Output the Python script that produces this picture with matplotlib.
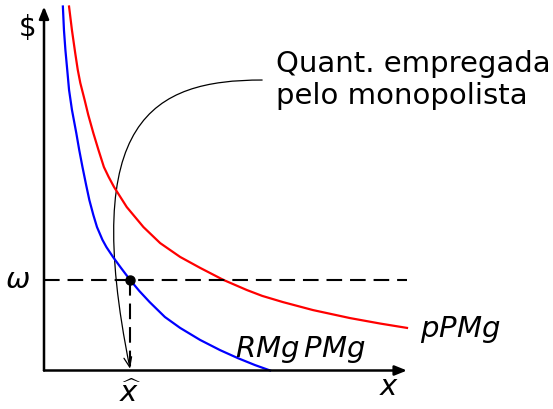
import matplotlib
matplotlib.use("Agg")
import matplotlib.pyplot as plt
from matplotlib.path import Path
from matplotlib.patches import FancyArrowPatch

# curva RMg PMg (azul)
rmg_x = [0.52, 0.55, 0.59, 0.64, 0.69, 0.77, 0.89, 0.97, 1.06, 1.16, 1.25, 1.36, 1.46, 1.61,
         1.72, 1.90, 2.12, 2.37, 2.63, 2.91, 3.33, 3.75, 4.30, 4.85, 5.34, 5.81, 6.23]
rmg_y = [10.0, 9.35, 8.80, 8.26, 7.71, 7.16, 6.52, 6.06, 5.59, 5.10, 4.68, 4.27, 3.94, 3.59,
         3.39, 3.12, 2.82, 2.49, 2.18, 1.88, 1.47, 1.17, 0.84, 0.56, 0.34, 0.15, 0.0]

# curva pPMg (vermelha)
ppmg_x = [0.69, 0.77, 0.86, 0.93, 1.00, 1.12, 1.22, 1.36, 1.50, 1.65, 1.78, 1.93, 2.28, 2.74,
          3.20, 3.75, 4.30, 4.94, 5.59, 6.01, 6.58, 7.41, 8.43, 9.26, 10.0]
ppmg_y = [10.0, 9.35, 8.72, 8.26, 7.90, 7.43, 7.02, 6.52, 6.06, 5.59, 5.32, 5.04, 4.49, 3.94,
          3.50, 3.12, 2.82, 2.49, 2.21, 2.05, 1.88, 1.66, 1.44, 1.29, 1.17]

# salário e quantidade do monopolista
omega = 2.49
x_hat = 2.37

fs = 21
fig = plt.figure(figsize=(5.53, 4.09), dpi=100)
ax = fig.add_axes([44 / 553, 38.5 / 409, 363 / 553, 364 / 409])
ax.set_xlim(0, 10)
ax.set_ylim(0, 10)
ax.axis('off')

# eixos com setas
seta = dict(arrowstyle='-|>,head_length=0.72,head_width=0.29', color='black',
            lw=1.8, shrinkA=0, shrinkB=0, mutation_scale=10)
ax.annotate('', xy=(10, 0), xytext=(0, 0), arrowprops=seta, annotation_clip=False)
ax.annotate('', xy=(0, 10), xytext=(0, 0), arrowprops=seta, annotation_clip=False)

# curvas
ax.plot(ppmg_x, ppmg_y, color='red', lw=1.6, clip_on=False, solid_joinstyle='round')
ax.plot(rmg_x, rmg_y, color='blue', lw=1.6, clip_on=False, solid_joinstyle='round')

# linhas tracejadas
ax.plot([0, 10], [omega, omega], color='black', lw=1.5, dashes=(7.5, 3.8), clip_on=False)
ax.plot([x_hat, x_hat], [omega, 0], color='black', lw=1.5, dashes=(7.5, 3.8), clip_on=False)
ax.plot(x_hat, omega, 'o', color='black', ms=6.5, zorder=5)

# seta curva da anotação
caminho = Path([(6.01, 7.98), (2.98, 7.98), (0.99, 6.88), (x_hat, 0.05)],
               [Path.MOVETO, Path.CURVE4, Path.CURVE4, Path.CURVE4])
ax.add_patch(FancyArrowPatch(path=caminho, arrowstyle='->,head_length=0.5,head_width=0.2',
                             mutation_scale=14, color='black', lw=0.9, clip_on=False))

# textos
ax.text(6.39, 7.98, 'Quant. empregada\npelo monopolista', fontsize=fs,
        ha='left', va='center', linespacing=1.15)
ax.text(10.36, 0.92, '$pPMg$', fontsize=fs, ha='left', va='baseline')
ax.text(5.26, 0.38, r'$RMg\,PMg$', fontsize=fs, ha='left', va='baseline')
ax.text(9.5, -0.45, '$x$', fontsize=fs, ha='center', va='center')
ax.text(-0.72, omega, r'$\omega$', fontsize=fs, ha='center', va='center')
ax.text(x_hat, -0.64, r'$\widehat{x}$', fontsize=fs, ha='center', va='center')
ax.text(-0.45, 9.4, '$', fontsize=20, ha='center', va='center')

fig.savefig('out.png', dpi=100)
